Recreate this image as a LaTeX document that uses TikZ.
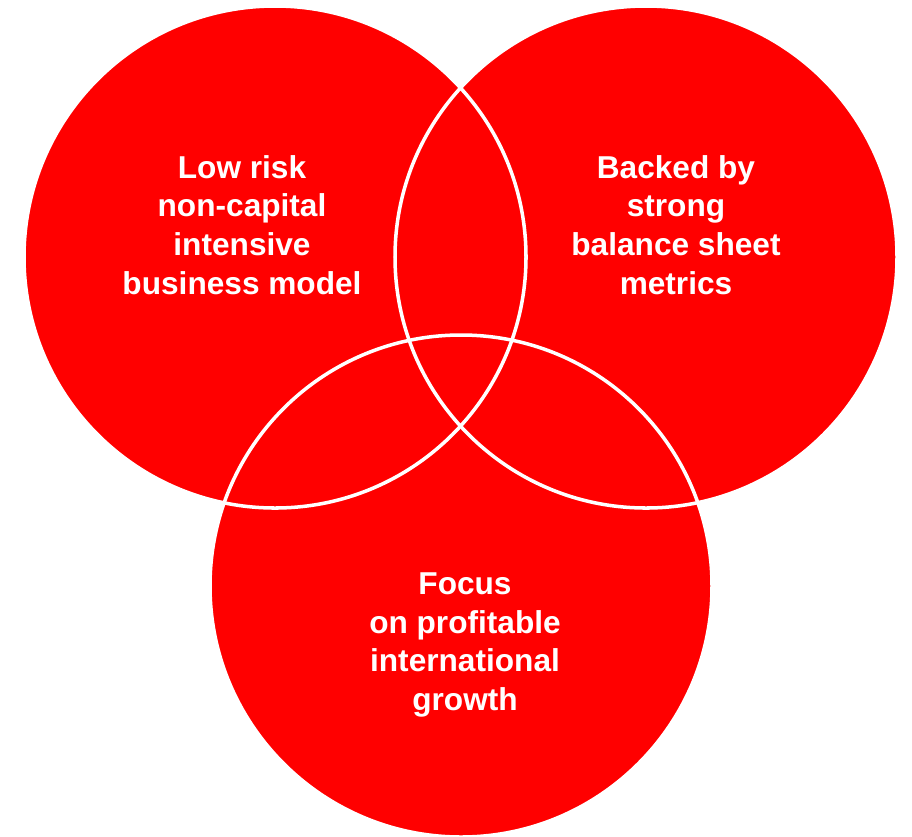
\documentclass[tikz,border=0pt]{standalone}
\usepackage{fontspec}
\setmainfont{Liberation Sans}
\usetikzlibrary{positioning}
\definecolor{vennred}{RGB}{255,0,0}

\begin{document}
\begin{tikzpicture}[x=0.02cm, y=-0.02cm, setfill/.style = {fill=vennred}, setline/.style = {draw=white, line width=2pt}, blurb/.style = {text=white, align=center, font=\fontsize{18}{22.1}\selectfont\bfseries}]
	\useasboundingbox (0,0) rectangle (912,836);
	\coordinate (risk) at (275,257);
	\coordinate (sheet) at (646,257);
	\coordinate (growth) at (461,586);
	% fill first, outlines afterwards so every edge stays visible
	\foreach \c in {risk,sheet,growth}
		\fill[setfill] (\c) circle[radius=251];
	\foreach \c in {risk,sheet,growth}
		\draw[setline] (\c) circle[radius=251];
	\node[blurb] (risktext) at (242,225) {Low risk\\non-capital\\intensive\\business model};
	\node[blurb] (sheettext) at (676,225) {Backed by\\strong\\balance sheet\\metrics};
	\node[blurb] (growthtext) at (465,645) {Focus\\on profitable\\international\\growth};
\end{tikzpicture}
\end{document}
